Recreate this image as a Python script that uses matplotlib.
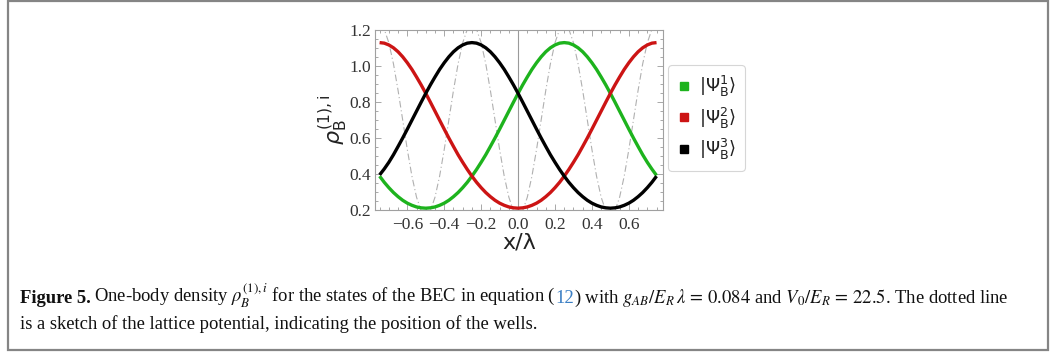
import numpy as np
import matplotlib.pyplot as plt
from matplotlib.lines import Line2D
from matplotlib.patches import Rectangle
from matplotlib.ticker import MultipleLocator

plt.rcParams["mathtext.fontset"] = "stix"

# one-body densities on x/lambda grid (step 0.025)
x = np.round(np.arange(-0.75, 0.7501, 0.025), 4)
rho_1 = [0.388, 0.354, 0.324, 0.297, 0.274, 0.254, 0.238, 0.226, 0.217, 0.212,
         0.210,
         0.212, 0.217, 0.226, 0.238, 0.254, 0.274, 0.297, 0.324, 0.354, 0.388,
         0.425, 0.465, 0.507, 0.553, 0.600, 0.649, 0.699, 0.749, 0.799, 0.848,
         0.895, 0.939, 0.981, 1.018, 1.051, 1.079, 1.101, 1.117, 1.127, 1.130,
         1.127, 1.117, 1.101, 1.079, 1.051, 1.018, 0.981, 0.939, 0.895, 0.848,
         0.799, 0.749, 0.699, 0.649, 0.600, 0.553, 0.507, 0.465, 0.427, 0.392]
rho_2 = [1.130, 1.127, 1.117, 1.101, 1.079, 1.051, 1.018, 0.981, 0.939, 0.895,
         0.848, 0.799, 0.749, 0.699, 0.649, 0.600, 0.553, 0.507, 0.465, 0.425,
         0.388, 0.354, 0.324, 0.297, 0.274, 0.254, 0.238, 0.226, 0.217, 0.212,
         0.210,
         0.212, 0.217, 0.226, 0.238, 0.254, 0.274, 0.297, 0.324, 0.354, 0.388,
         0.425, 0.465, 0.507, 0.553, 0.600, 0.649, 0.699, 0.749, 0.799, 0.848,
         0.895, 0.939, 0.981, 1.018, 1.051, 1.079, 1.101, 1.117, 1.127, 1.130]
rho_3 = [0.395, 0.428, 0.465, 0.507, 0.553, 0.600, 0.649, 0.699, 0.749, 0.799,
         0.848, 0.895, 0.939, 0.981, 1.018, 1.051, 1.079, 1.101, 1.117, 1.127,
         1.130, 1.127, 1.117, 1.101, 1.079, 1.051, 1.018, 0.981, 0.939, 0.895,
         0.848, 0.799, 0.749, 0.699, 0.649, 0.600, 0.553, 0.507, 0.465, 0.425,
         0.388, 0.354, 0.324, 0.297, 0.274, 0.254, 0.238, 0.226, 0.217, 0.212,
         0.210,
         0.212, 0.217, 0.226, 0.238, 0.254, 0.274, 0.297, 0.324, 0.354, 0.388]

# lattice potential sketch (same grid)
lat_period = [1.23, 1.204, 1.129, 1.012, 0.864, 0.70, 0.536, 0.388, 0.271, 0.196,
              0.17, 0.196, 0.271, 0.388, 0.536, 0.70, 0.864, 1.012, 1.129, 1.204]
v_lat = lat_period * 3 + [1.23]

labels = [r"$|\Psi_\mathrm{B}^\mathrm{1}\rangle$",
          r"$|\Psi_\mathrm{B}^\mathrm{2}\rangle$",
          r"$|\Psi_\mathrm{B}^\mathrm{3}\rangle$"]
colors = ["#1db31d", "#cc1414", "#000000"]

fig = plt.figure(figsize=(10.53, 3.56), dpi=100)

# page frame around figure + caption
fig.patches.append(Rectangle((8 / 1053, 6 / 356), 1040 / 1053, 349 / 356,
                             transform=fig.transFigure, fill=False,
                             edgecolor="#858585", lw=1.6))

ax = fig.add_axes([375 / 1053, 146 / 356, 288 / 1053, 180 / 356])
ax.plot(x, v_lat, color="#b0b0b0", lw=0.8, dashes=(6, 2.5, 1, 2.5))
ax.axvline(0, color="#9a9a9a", lw=0.8)
for rho, c in zip([rho_1, rho_2, rho_3], colors):
    ax.plot(x, rho, color=c, lw=2.4, solid_capstyle="butt")

ax.set_xlim(-0.775, 0.785)
ax.set_ylim(0.2, 1.2)
ax.xaxis.set_minor_locator(MultipleLocator(0.05))
ax.yaxis.set_minor_locator(MultipleLocator(0.05))
ax.set_xticks([-0.6, -0.4, -0.2, 0.0, 0.2, 0.4, 0.6])
ax.set_xticklabels(["\u22120.6", "\u22120.4", "\u22120.2", "0.0", "0.2", "0.4", "0.6"])
ax.set_yticks([0.2, 0.4, 0.6, 0.8, 1.0, 1.2])
ax.set_yticklabels(["0.2", "0.4", "0.6", "0.8", "1.0", "1.2"])
ax.tick_params(which="both", direction="in", top=True, right=True,
               color="#9a9a9a", width=0.6, labelsize=12.5,
               labelcolor="#333333")
ax.tick_params(axis="x", pad=5)
ax.tick_params(axis="y", pad=3)
ax.tick_params(which="major", length=4)
ax.tick_params(which="minor", length=2)
for lab in ax.get_xticklabels() + ax.get_yticklabels():
    lab.set_family("Liberation Serif")
for sp in ax.spines.values():
    sp.set_color("#a0a0a0")
    sp.set_linewidth(0.8)

ax.set_xlabel("x/\u03bb", fontsize=16, family="DejaVu Sans", labelpad=0,
              color="#222222")
ax.set_ylabel(r"$\rho_\mathrm{B}^{\mathrm{(1),i}}$", fontsize=16, labelpad=0,
              color="#222222", math_fontfamily="dejavusans")

handles = [Line2D([], [], ls="none", marker="s", ms=6, color=c) for c in colors]
leg = fig.legend(handles, labels, loc="center left",
                 bbox_to_anchor=(668 / 1053, 1 - 118 / 356),
                 prop=dict(size=13, math_fontfamily="dejavusans"),
                 frameon=True, fancybox=True, edgecolor="#cccccc",
                 handlelength=0.8, handletextpad=0.4, labelspacing=0.35,
                 borderpad=0.5, borderaxespad=0)
leg.get_frame().set_linewidth(0.8)
for t in leg.get_texts():
    t.set_color("#222222")

# caption, drawn piece by piece so "12" can be coloured
renderer = fig.canvas.get_renderer()
cap_font = dict(family="Liberation Serif", fontsize=13.4, color="#111111")


def put_line(pieces, x0, y0):
    xx = x0
    for s, extra in pieces:
        kw = dict(cap_font)
        kw.update(extra)
        gap = kw.pop("gap", 0)
        t = fig.text(xx, y0, s, va="baseline", ha="left", **kw)
        bb = t.get_window_extent(renderer)
        xx = (bb.x1 + gap) / fig.bbox.width
    return xx


line1 = [
    ("Figure 5.", {"weight": "bold", "gap": 3}),
    ("One-body density $\\rho_B^{(1),i}$ for the states of the BEC in equation (", {}),
    ("12", {"color": "#3b7fc4"}),
    (") with $g_{AB}/E_R\\,\\lambda\\,=\\,0.084$ and $V_0/E_R\\,=\\,22.5$. The dotted line", {}),
]
put_line(line1, 20 / 1053, 1 - 303 / 356)
put_line([("is a sketch of the lattice potential, indicating the position of the wells.", {})],
         20 / 1053, 1 - 329 / 356)

fig.savefig("out.png", dpi=100)
